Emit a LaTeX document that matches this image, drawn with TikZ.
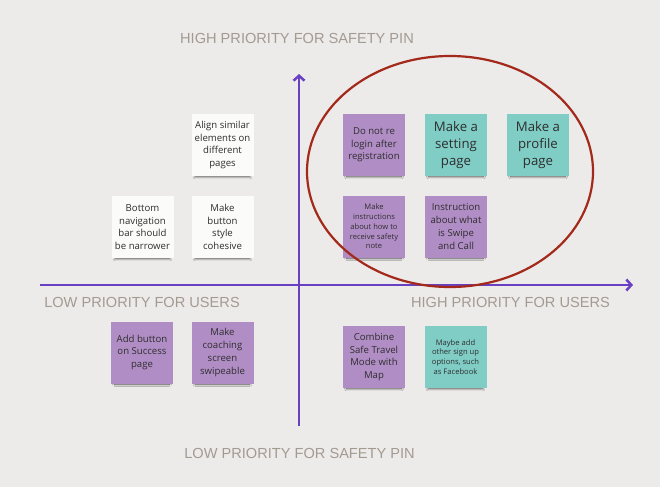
\documentclass[tikz,border=0pt]{standalone}
\usepackage{fontspec}
\setmainfont{Open Sans}
\newfontfamily\axisfont{Liberation Sans}
\usetikzlibrary{arrows.meta,shadows.blur,shapes.geometric}
\definecolor{bgc}{HTML}{EDEBE9}
\definecolor{purp}{HTML}{B18DC6}
\definecolor{teal}{HTML}{80CDC6}
\definecolor{whitenote}{HTML}{FBFBFA}
\definecolor{axisc}{HTML}{6A40C2}
\definecolor{ringc}{HTML}{A3291B}
\definecolor{labc}{HTML}{A39A92}
\definecolor{txtc}{HTML}{2E2E2E}
\tikzset{
  note/.style={rectangle, minimum width=62pt, minimum height=62pt, inner sep=0pt,
    align=center, text=txtc,
    blur shadow={shadow xshift=0pt, shadow yshift=-5pt, shadow opacity=70, shadow scale=0.88, shadow blur radius=2.5pt, shadow blur steps=6}},
  pnote/.style={note, fill=purp},
  tnote/.style={note, fill=teal},
  wnote/.style={note, fill=whitenote},
  big/.style={font=\fontsize{13.2}{17}\selectfont},
  mid/.style={font=\fontsize{9.6}{12.7}\selectfont},
  small/.style={font=\fontsize{7.6}{9.8}\selectfont},
  axisline/.style={draw=axisc, line width=2.8pt, -{Straight Barb[length=5pt,width=11pt,line width=2.5pt]}},
  axlabel/.style={text=labc, font=\axisfont\fontsize{14.6}{16}\selectfont, inner sep=0pt}
}
\begin{document}
\begin{tikzpicture}[x=1pt,y=-1pt]
\fill[bgc] (0,0) rectangle (660,487);
\useasboundingbox (0,0) rectangle (660,487);

% axes
\coordinate (hl) at (40,285);
\coordinate (hr) at (633,285);
\coordinate (vb) at (299,426);
\coordinate (vt) at (299,74);
\draw[axisline] (hl) -- (hr);
\draw[axisline] (vb) -- (vt);

% axis labels
\node[axlabel] (hsp) at (297,38) {HIGH PRIORITY FOR SAFETY PIN};
\node[axlabel] (lsp) at (299.5,453) {LOW PRIORITY FOR SAFETY PIN};
\node[axlabel] (lpu) at (142,302) {LOW PRIORITY FOR USERS};
\node[axlabel] (hpu) at (510.5,302) {HIGH PRIORITY FOR USERS};

% white notes
\node[wnote, mid] (align) at (222.5,145) {Align similar\\elements on\\different\\pages};
\node[wnote, mid] (bottomnav) at (142.5,227) {Bottom\\navigation\\bar should\\be narrower};
\node[wnote, mid] (btnstyle) at (222.5,227) {Make\\button\\style\\cohesive};

% top right
\node[pnote, mid] (relogin) at (374,145) {Do not re\\login after\\registration};
\node[tnote, big] (setting) at (456,145) {Make a\\setting\\page};
\node[tnote, big] (profile) at (538,145) {Make a\\profile\\page};
\node[pnote, small] (instr) at (374,226.5) {Make\\instructions\\about how to\\receive safety\\note};
\node[pnote, mid] (swipe) at (456,226.5) {Instruction\\about what\\is Swipe\\and Call};

% bottom
\node[pnote, mid] (addbtn) at (142,352.5) {Add button\\on Success\\page};
\node[pnote, mid] (coach) at (222.5,352.5) {Make\\coaching\\screen\\swipeable};
\node[pnote, mid] (combine) at (374,357) {Combine\\Safe Travel\\Mode with\\Map};
\node[tnote, small] (signup) at (455.5,357) {Maybe add\\other sign up\\options, such\\as Facebook};

% ring
\node[draw=ringc, line width=2.2pt, ellipse, minimum width=286pt, minimum height=231pt, inner sep=0pt] (ring) at (450,171.5) {};
\end{tikzpicture}
\end{document}
